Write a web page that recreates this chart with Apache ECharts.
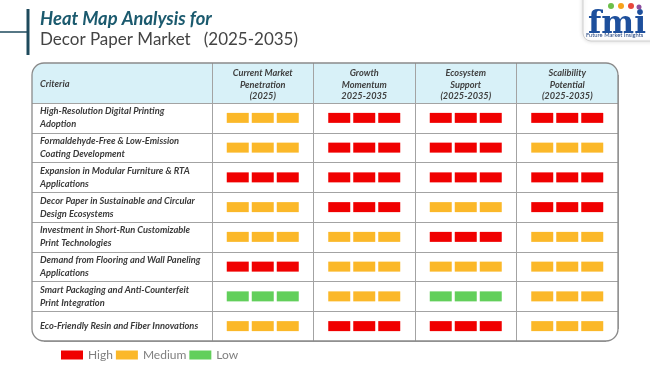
<!DOCTYPE html>
<html>
<head>
<meta charset="utf-8">
<script src="https://cdn.jsdelivr.net/npm/echarts@6/dist/echarts.min.js"></script>
<style>html,body{margin:0;padding:0;background:#fff}#chart{width:650px;height:366px}</style>
</head>
<body>
<div id="chart"></div>
<script>
// ---- data ----
const criteria = [
  'High-Resolution Digital Printing\nAdoption',
  'Formaldehyde-Free & Low-Emission\nCoating Development',
  'Expansion in Modular Furniture & RTA\nApplications',
  'Decor Paper in Sustainable and Circular\nDesign Ecosystems',
  'Investment in Short-Run Customizable\nPrint Technologies',
  'Demand from Flooring and Wall Paneling\nApplications',
  'Smart Packaging and Anti-Counterfeit\nPrint Integration',
  'Eco-Friendly Resin and Fiber Innovations'
];
const columnHeaders = [
  'Current Market\nPenetration\n(2025)',
  'Growth\nMomentum\n2025-2035',
  'Ecosystem\nSupport\n(2025-2035)',
  'Scalibility\nPotential\n(2025-2035)'
];
const currentPenetration = ['Medium','Medium','High','Medium','Medium','High','Low','Medium'];
const growthMomentum     = ['High','High','High','High','Medium','Medium','Medium','High'];
const ecosystemSupport   = ['High','High','High','Medium','High','Medium','Low','High'];
const scalability        = ['High','Medium','High','High','Medium','Medium','Medium','Medium'];
const levels = ['High','Medium','Low'];
const levelColors = {High:'#f00000', Medium:'#fbb829', Low:'#62cf5b'};

const columns = [currentPenetration, growthMomentum, ecosystemSupport, scalability];

function cellsFor(level){
  const out = [];
  columns.forEach((col, ci) => col.forEach((v, ri) => { if (v === level) out.push([ci, ri]); }));
  return out;
}

function renderItem(params, api){
  const c = api.coord([api.value(0), api.value(1)]);
  const w = 22, h = 10, gap = 3;
  const children = [];
  for (let k = -1; k <= 1; k++){
    children.push({type:'rect', shape:{x:c[0] + k*(w+gap) - w/2, y:c[1] - h/2, width:w, height:h},
      style:{fill: api.visual('color')}});
  }
  return {type:'group', children};
}

// white mask outside a rounded corner (hides straight grid-line ends)
function cornerMask(cx, cy, sx, sy, r){
  const pts = [];
  for (let i = 0; i <= 16; i++){
    const t = (Math.PI / 2) * i / 16;
    pts.push([cx + r * Math.cos(t) * sx, cy + r * Math.sin(t) * sy]);
  }
  const e = r + 2;
  pts.push([cx, cy + e * sy]);
  pts.push([cx + e * sx, cy + e * sy]);
  pts.push([cx + e * sx, cy]);
  return {type:'polygon', z:90, shape:{points:pts}, style:{fill:'#fff'}};
}

const font = 'Lato';
const gridColor = '#a3a3a3';

const chart = echarts.init(document.getElementById('chart'));
chart.setOption({
  animation:false,
  backgroundColor:'#fff',
  grid:{left:212, right:32, top:103, bottom:25},
  xAxis:{
    type:'category', position:'top', data:columnHeaders,
    axisLine:{show:false},
    axisTick:{show:true, length:40, lineStyle:{color:gridColor, width:1}},
    splitLine:{show:true, lineStyle:{color:gridColor, width:1}},
    axisLabel:{margin:1, fontFamily:font, fontSize:9.2, fontStyle:'italic', fontWeight:'bold',
      color:'#404040', lineHeight:11.5, align:'center'}
  },
  yAxis:{
    type:'category', inverse:true, data:criteria,
    axisLine:{show:false},
    axisTick:{show:true, length:180, lineStyle:{color:gridColor, width:1}},
    splitLine:{show:true, lineStyle:{color:gridColor, width:1}},
    axisLabel:{margin:172, align:'left', fontFamily:font, fontSize:9.3, fontStyle:'italic', fontWeight:'bold',
      color:'#3a3a3a', lineHeight:13}
  },
  legend:{
    data:levels, left:61, top:349, padding:0, icon:'rect', itemWidth:22, itemHeight:9, itemGap:3,
    textStyle:{color:'#7f7f7f', fontSize:12, fontFamily:font}
  },
  series: levels.map(l => ({
    name:l, type:'custom', renderItem, data:cellsFor(l), itemStyle:{color:levelColors[l]},
    encode:{x:0, y:1}
  })),
  graphic:[
    {type:'rect', z:-100, shape:{x:32, y:63, width:586, height:40, r:[12,12,0,0]}, style:{fill:'#d8f1f8'}},
    cornerMask(606, 75, 1, -1, 12),
    cornerMask(606, 329, 1, 1, 12),
    cornerMask(44, 329, -1, 1, 12),
    {type:'rect', z:100, shape:{x:32, y:63, width:586, height:278, r:12}, style:{fill:null, stroke:'#8a8a8a', lineWidth:1.3}},
    {type:'text', z:100, x:40, y:84, style:{text:'Criteria', font:'italic bold 9.3px Lato', fill:'#404040', verticalAlign:'middle'}},
    // title
    {type:'line', shape:{x1:28, y1:9, x2:28, y2:55}, style:{stroke:'#1e4a5c', lineWidth:3}},
    {type:'line', shape:{x1:0, y1:32, x2:28, y2:32}, style:{stroke:'#1e4a5c', lineWidth:1.5}},
    {type:'text', x:40, y:19, style:{text:'Heat Map Analysis for', font:'italic bold 18.4px Lato', fill:'#1b5a6e', verticalAlign:'middle'}},
    {type:'text', x:40, y:39.5, style:{text:'Decor Paper Market   (2025-2035)', font:'17px Lato', fill:'#444', verticalAlign:'middle'}},
    // logo
    {type:'rect', shape:{x:583, y:-10, width:80, height:51, r:8}, style:{fill:'#fff', stroke:'#d0d0d0', lineWidth:1, shadowBlur:4, shadowColor:'rgba(0,0,0,0.15)'}},
    {type:'text', x:588, y:9, style:{text:'fmi', font:'bold 31px "DejaVu Serif"', fill:'#1d4f9c', verticalAlign:'top'}},
    {type:'circle', shape:{cx:611, cy:6, r:3}, style:{fill:'#6cbf4a'}},
    {type:'circle', shape:{cx:621, cy:6, r:3}, style:{fill:'#f7a21b'}},
    {type:'circle', shape:{cx:631, cy:6, r:3}, style:{fill:'#e8473c'}},
    {type:'circle', shape:{cx:639, cy:7, r:2.5}, style:{fill:'#8e4f9f'}},
    {type:'text', x:586, y:35, style:{text:'Future Market Insights', font:'5.8px Lato', fill:'#1d3f7c', verticalAlign:'middle'}}
  ]
});
</script>
</body>
</html>
